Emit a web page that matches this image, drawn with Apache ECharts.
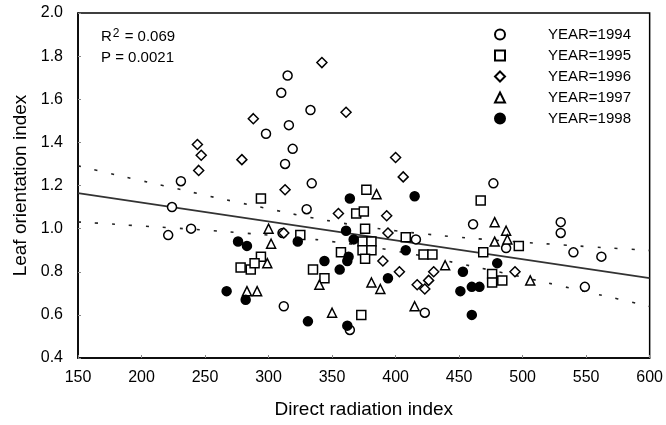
<!DOCTYPE html>
<html>
<head>
<meta charset="utf-8">
<script src="https://cdn.jsdelivr.net/npm/echarts@6/dist/echarts.min.js"></script>
<style>
html,body{margin:0;padding:0;background:#fff;}
#c{width:666px;height:425px;}
</style>
</head>
<body>
<div id="c"></div>
<script>
var xTicks = [150,200,250,300,350,400,450,500,550,600];
var yTicks = [0.4,0.6,0.8,1.0,1.2,1.4,1.6,1.8,2.0];
var seriesNames = ['YEAR=1994','YEAR=1995','YEAR=1996','YEAR=1997','YEAR=1998'];

var y1994 = [[315,1.71],[310,1.63],[333,1.55],[316,1.48],[298,1.44],[319,1.37],[313,1.30],[334,1.21],[231,1.22],[224,1.10],[221,0.97],[239,1.00],[311,0.98],[330,1.09],[312,0.64],[461,1.02],[477,1.21],[487,0.91],[530,1.03],[530,0.98],[562,0.87],[540,0.89],[549,0.73],[423,0.61],[364,0.53],[416,0.95]];
var y1995 = [[294,1.14],[377,1.18],[467,1.13],[369,1.07],[375,1.08],[325,0.97],[376,1.00],[374,0.94],[381,0.94],[408,0.96],[374,0.90],[381,0.90],[422,0.88],[429,0.88],[357,0.89],[376,0.86],[335,0.81],[344,0.77],[373,0.60],[294,0.87],[278,0.82],[286,0.81],[289,0.84],[469,0.89],[476,0.79],[476,0.75],[484,0.76],[497,0.92]];
var y1996 = [[342,1.77],[361,1.54],[288,1.51],[244,1.39],[247,1.34],[245,1.27],[279,1.32],[400,1.33],[406,1.24],[313,1.18],[355,1.07],[393,1.06],[312,0.98],[394,0.98],[390,0.85],[403,0.80],[417,0.74],[426,0.76],[423,0.72],[430,0.80],[494,0.80]];
var y1997 = [[385,1.16],[300,1.00],[302,0.93],[299,0.84],[283,0.71],[291,0.71],[340,0.74],[381,0.75],[388,0.72],[350,0.61],[415,0.64],[439,0.83],[478,1.03],[487,0.99],[478,0.94],[488,0.95],[506,0.76]];
var y1998 = [[364,1.14],[415,1.15],[276,0.94],[283,0.92],[267,0.71],[282,0.67],[323,0.94],[361,0.99],[367,0.95],[408,0.90],[363,0.87],[362,0.85],[344,0.85],[356,0.81],[394,0.77],[331,0.57],[362,0.55],[453,0.80],[451,0.71],[460,0.73],[466,0.73],[480,0.84],[460,0.60]];

var fitLine = [[150,1.165],[600,0.770]];
var bandX = [150,175,200,225,250,275,300,325,350,375,400,425,450,475,500,525,550,575,600];
var bandUpper = [1.291,1.256,1.222,1.189,1.155,1.123,1.092,1.061,1.034,1.010,0.990,0.974,0.960,0.948,0.937,0.927,0.917,0.908,0.899];
var bandLower = [1.031,1.022,1.012,1.003,0.993,0.982,0.970,0.957,0.940,0.920,0.896,0.869,0.838,0.807,0.775,0.741,0.707,0.674,0.639];

var FONT = 'Liberation Sans';
var symbols = ['circle','rect','diamond','triangle','circle'];
var sizes = [9,9,10,9,9];
var datasets = [y1994,y1995,y1996,y1997,y1998];

var series = [];
for (var i = 0; i < 5; i++) {
  series.push({
    name: seriesNames[i],
    type: 'scatter',
    data: datasets[i],
    symbol: symbols[i],
    symbolSize: sizes[i],
    itemStyle: {
      color: i === 4 ? '#000' : '#fff',
      borderColor: '#000',
      borderWidth: 1.5,
      opacity: 1
    },
    z: 5
  });
}
function pair(xs, ys){ var r=[]; for (var k=0;k<xs.length;k++) r.push([xs[k], ys[k]]); return r; }
series.push({
  type:'line', data: fitLine, showSymbol:false, silent:true,
  lineStyle:{color:'#333', width:1.8}, z:3
});
series.push({
  type:'line', data: pair(bandX, bandUpper), showSymbol:false, smooth:true, silent:true,
  lineStyle:{color:'#222', width:1.6, type:[3,14]}, z:3
});
series.push({
  type:'line', data: pair(bandX, bandLower), showSymbol:false, smooth:true, silent:true,
  lineStyle:{color:'#222', width:1.6, type:[3,14]}, z:3
});

var chart = echarts.init(document.getElementById('c'), null, {renderer:'canvas'});
chart.setOption({
  animation: false,
  backgroundColor: '#fff',
  textStyle: {fontFamily: FONT},
  grid: {left:78, top:13, right:14, bottom:67, show:true, borderColor:'#000', borderWidth:1.5},
  legend: {
    data: seriesNames,
    orient: 'vertical',
    left: 489, top: 22,
    itemWidth: 10, itemHeight: 10,
    itemGap: 6,
    textStyle: {fontFamily: FONT, fontSize: 15, color:'#000', padding:[0,0,0,38]}
  },
  graphic: [
    {type:'text', left:101, top:28, style:{text:'{a|R}{s|2}{a| = 0.069}', rich:{a:{fontFamily:FONT,fontSize:15,fill:'#000'}, s:{fontFamily:FONT,fontSize:12,fill:'#000',verticalAlign:'top', padding:[0,1,6,1]}}}},
    {type:'text', left:101, top:50, style:{text:'P = 0.0021', fontFamily:FONT, fontSize:15, fill:'#000'}}
  ],
  xAxis: {
    type:'value', min:150, max:600, interval:50,
    name:'Direct radiation index', nameLocation:'middle', nameGap:42,
    nameTextStyle:{fontFamily:FONT, fontSize:19, color:'#000'},
    axisLine:{show:true, lineStyle:{color:'#000', width:1.5}},
    axisTick:{show:true, inside:true, length:3, lineStyle:{color:'#888'}},
    axisLabel:{fontFamily:FONT, fontSize:16, color:'#000', margin:12},
    splitLine:{show:false}
  },
  yAxis: {
    type:'value', min:0.4, max:2.0, interval:0.2,
    name:'Leaf orientation index', nameLocation:'middle', nameGap:48,
    nameTextStyle:{fontFamily:FONT, fontSize:19, color:'#000'},
    axisLine:{show:true, lineStyle:{color:'#000', width:1.5}},
    axisTick:{show:true, inside:true, length:3, lineStyle:{color:'#888'}},
    axisLabel:{fontFamily:FONT, fontSize:16, color:'#000', margin:15, formatter:function(v){return v.toFixed(1);}},
    splitLine:{show:false}
  },
  series: series
});
</script>
</body>
</html>
